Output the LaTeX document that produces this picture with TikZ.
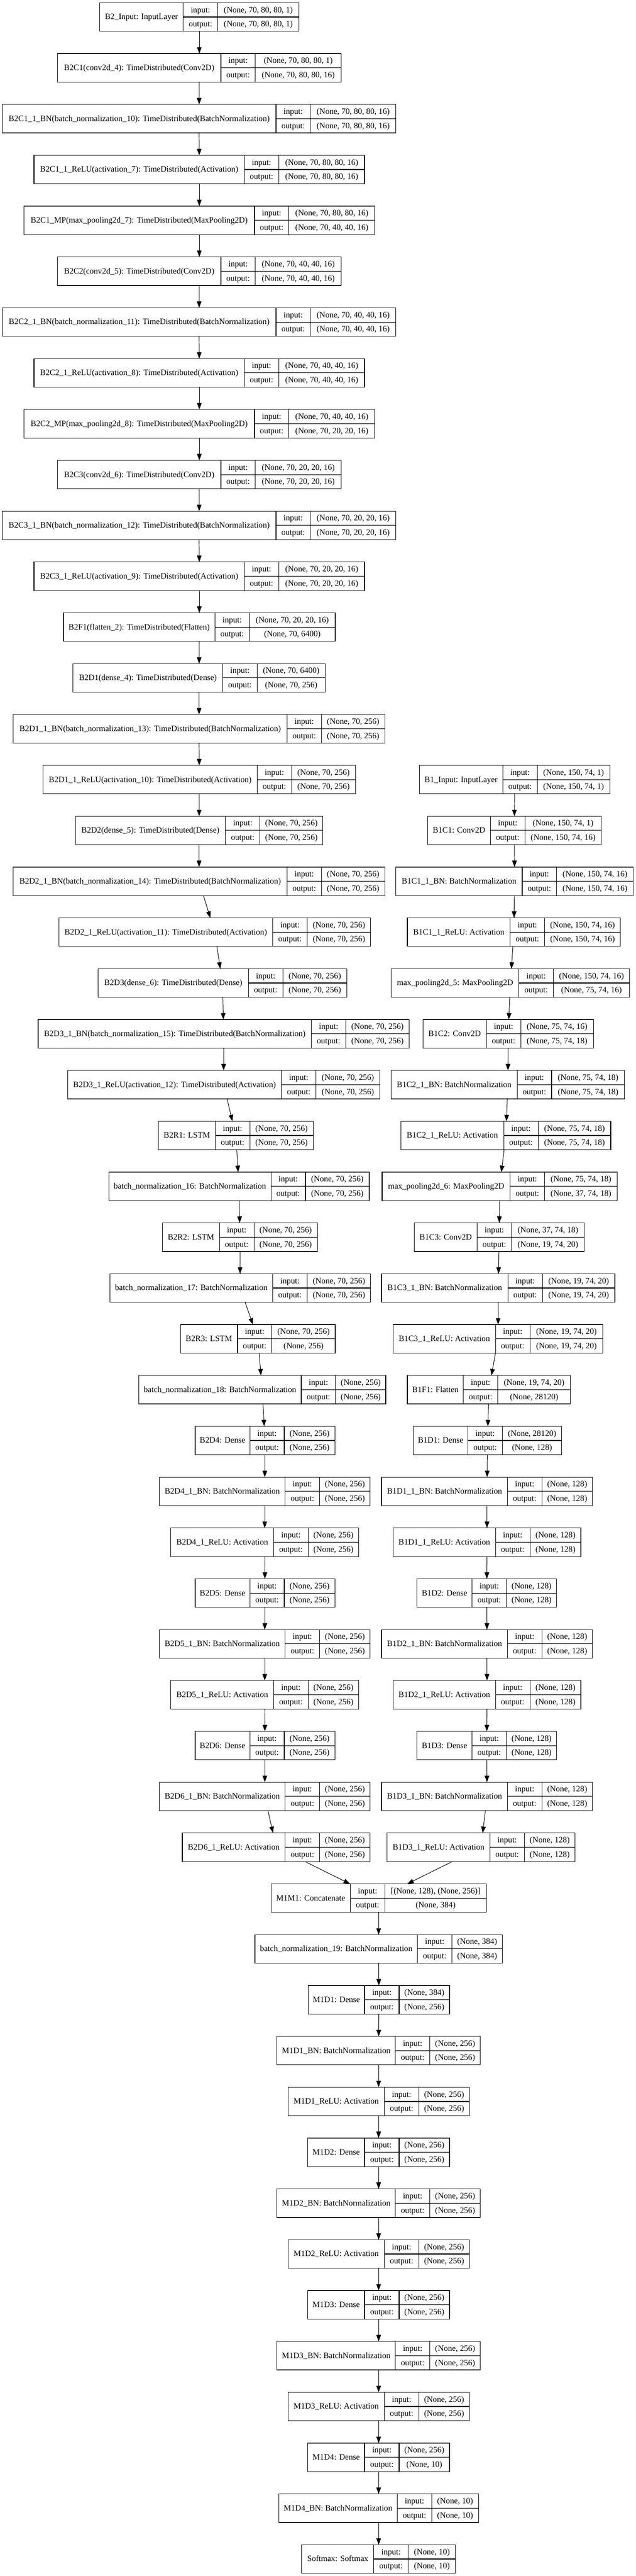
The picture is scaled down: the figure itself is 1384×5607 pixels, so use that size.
\documentclass[tikz,border=0pt]{standalone}
\usepackage{fontspec}
\setmainfont{Liberation Serif}
\usepackage{tikz}
\usetikzlibrary{arrows.meta}
\tikzset{%
  >={Triangle[width=10pt,length=14pt]},
  % Specifications for style of nodes:
  layer/.style = {rectangle, draw=black, line width=1.3pt,
    minimum height=62pt, inner sep=0pt, outer sep=0pt},
  cell/.style = {draw=black, line width=1.3pt},
  cellText/.style = {inner sep=0pt, text height=13pt, text depth=2pt,
    font=\fontsize{18}{20}\selectfont},
  flow/.style = {->, line width=1.1pt},
}
% one Keras layer record: name, row, left, title cell width, right, title, input, output
\newcommand{\kerasLayer}[8]{%
  \pgfmathsetmacro\layTop{6+110.66*#2}
  \pgfmathsetmacro\layMid{\layTop+31}
  \pgfmathsetmacro\layBot{\layTop+62}
  \pgfmathsetmacro\layIn{\layTop+15.5}
  \pgfmathsetmacro\layOut{\layTop+46.5}
  \pgfmathsetmacro\layW{#5-#3}
  \pgfmathsetmacro\layCX{(#3+#5)/2}
  \pgfmathsetmacro\layA{#3+#4}
  \pgfmathsetmacro\layB{#3+#4+75}
  \pgfmathsetmacro\layTX{#3+#4/2}
  \pgfmathsetmacro\layLX{#3+#4+37.5}
  \pgfmathsetmacro\layVX{(#3+#4+75+#5)/2}
  \node(#1)[layer, minimum width=\layW pt] at (\layCX,\layMid) {};
  \draw[cell] (\layA,\layTop) -- (\layA,\layBot);
  \draw[cell] (\layB,\layTop) -- (\layB,\layBot);
  \draw[cell] (\layA,\layMid) -- (#5,\layMid);
  \node(#1Name)[cellText] at (\layTX,\layMid) {#6};
  \node(#1InTag)[cellText] at (\layLX,\layIn) {input:};
  \node(#1OutTag)[cellText] at (\layLX,\layOut) {output:};
  \node(#1In)[cellText] at (\layVX,\layIn) {#7};
  \node(#1Out)[cellText] at (\layVX,\layOut) {#8};
}

\begin{document}
\begin{tikzpicture}[x=1pt, y=-1pt]
  \useasboundingbox (0,0) rectangle (1384,5607);
  % Branch B2 (image sequence)
  \kerasLayer{B2Input}{0}{217}{182}{651}{B2\_Input: InputLayer}{(None, 70, 80, 80, 1)}{(None, 70, 80, 80, 1)}
  \kerasLayer{B2C1}{1}{125}{356}{743}{B2C1(conv2d\_4): TimeDistributed(Conv2D)}{(None, 70, 80, 80, 1)}{(None, 70, 80, 80, 16)}
  \kerasLayer{B2C1BN}{2}{5}{596}{862}{B2C1\_1\_BN(batch\_normalization\_10): TimeDistributed(BatchNormalization)}{(None, 70, 80, 80, 16)}{(None, 70, 80, 80, 16)}
  \kerasLayer{B2C1ReLU}{3}{74}{458}{794}{B2C1\_1\_ReLU(activation\_7): TimeDistributed(Activation)}{(None, 70, 80, 80, 16)}{(None, 70, 80, 80, 16)}
  \kerasLayer{B2C1MP}{4}{52}{502}{816}{B2C1\_MP(max\_pooling2d\_7): TimeDistributed(MaxPooling2D)}{(None, 70, 80, 80, 16)}{(None, 70, 40, 40, 16)}
  \kerasLayer{B2C2}{5}{125}{356}{743}{B2C2(conv2d\_5): TimeDistributed(Conv2D)}{(None, 70, 40, 40, 16)}{(None, 70, 40, 40, 16)}
  \kerasLayer{B2C2BN}{6}{5}{596}{862}{B2C2\_1\_BN(batch\_normalization\_11): TimeDistributed(BatchNormalization)}{(None, 70, 40, 40, 16)}{(None, 70, 40, 40, 16)}
  \kerasLayer{B2C2ReLU}{7}{74}{458}{794}{B2C2\_1\_ReLU(activation\_8): TimeDistributed(Activation)}{(None, 70, 40, 40, 16)}{(None, 70, 40, 40, 16)}
  \kerasLayer{B2C2MP}{8}{52}{502}{816}{B2C2\_MP(max\_pooling2d\_8): TimeDistributed(MaxPooling2D)}{(None, 70, 40, 40, 16)}{(None, 70, 20, 20, 16)}
  \kerasLayer{B2C3}{9}{125}{356}{743}{B2C3(conv2d\_6): TimeDistributed(Conv2D)}{(None, 70, 20, 20, 16)}{(None, 70, 20, 20, 16)}
  \kerasLayer{B2C3BN}{10}{5}{596}{862}{B2C3\_1\_BN(batch\_normalization\_12): TimeDistributed(BatchNormalization)}{(None, 70, 20, 20, 16)}{(None, 70, 20, 20, 16)}
  \kerasLayer{B2C3ReLU}{11}{74}{458}{794}{B2C3\_1\_ReLU(activation\_9): TimeDistributed(Activation)}{(None, 70, 20, 20, 16)}{(None, 70, 20, 20, 16)}
  \kerasLayer{B2F1}{12}{138}{330}{730}{B2F1(flatten\_2): TimeDistributed(Flatten)}{(None, 70, 20, 20, 16)}{(None, 70, 6400)}
  \kerasLayer{B2D1}{13}{159}{326}{708}{B2D1(dense\_4): TimeDistributed(Dense)}{(None, 70, 6400)}{(None, 70, 256)}
  \kerasLayer{B2D1BN}{14}{29}{596}{838}{B2D1\_1\_BN(batch\_normalization\_13): TimeDistributed(BatchNormalization)}{(None, 70, 256)}{(None, 70, 256)}
  \kerasLayer{B2D1ReLU}{15}{94}{466}{774}{B2D1\_1\_ReLU(activation\_10): TimeDistributed(Activation)}{(None, 70, 256)}{(None, 70, 256)}
  \kerasLayer{B2D2}{16}{164}{327}{703}{B2D2(dense\_5): TimeDistributed(Dense)}{(None, 70, 256)}{(None, 70, 256)}
  \kerasLayer{B2D2BN}{17}{29}{596}{838}{B2D2\_1\_BN(batch\_normalization\_14): TimeDistributed(BatchNormalization)}{(None, 70, 256)}{(None, 70, 256)}
  \kerasLayer{B2D2ReLU}{18}{128}{466}{807}{B2D2\_1\_ReLU(activation\_11): TimeDistributed(Activation)}{(None, 70, 256)}{(None, 70, 256)}
  \kerasLayer{B2D3}{19}{214}{327}{755}{B2D3(dense\_6): TimeDistributed(Dense)}{(None, 70, 256)}{(None, 70, 256)}
  \kerasLayer{B2D3BN}{20}{83}{595}{891}{B2D3\_1\_BN(batch\_normalization\_15): TimeDistributed(BatchNormalization)}{(None, 70, 256)}{(None, 70, 256)}
  \kerasLayer{B2D3ReLU}{21}{147}{466}{827}{B2D3\_1\_ReLU(activation\_12): TimeDistributed(Activation)}{(None, 70, 256)}{(None, 70, 256)}
  \kerasLayer{B2R1}{22}{345}{124}{682}{B2R1: LSTM}{(None, 70, 256)}{(None, 70, 256)}
  \kerasLayer{BN16}{23}{237}{353}{804}{batch\_normalization\_16: BatchNormalization}{(None, 70, 256)}{(None, 70, 256)}
  \kerasLayer{B2R2}{24}{354}{124}{691}{B2R2: LSTM}{(None, 70, 256)}{(None, 70, 256)}
  \kerasLayer{BN17}{25}{239}{355}{807}{batch\_normalization\_17: BatchNormalization}{(None, 70, 256)}{(None, 70, 256)}
  \kerasLayer{B2R3}{26}{393}{124}{730}{B2R3: LSTM}{(None, 70, 256)}{(None, 256)}
  \kerasLayer{BN18}{27}{302}{354}{840}{batch\_normalization\_18: BatchNormalization}{(None, 256)}{(None, 256)}
  \kerasLayer{B2D4}{28}{425}{119}{729}{B2D4: Dense}{(None, 256)}{(None, 256)}
  \kerasLayer{B2D4BN}{29}{347}{274}{806}{B2D4\_1\_BN: BatchNormalization}{(None, 256)}{(None, 256)}
  \kerasLayer{B2D4ReLU}{30}{372}{224}{781}{B2D4\_1\_ReLU: Activation}{(None, 256)}{(None, 256)}
  \kerasLayer{B2D5}{31}{425}{119}{729}{B2D5: Dense}{(None, 256)}{(None, 256)}
  \kerasLayer{B2D5BN}{32}{347}{274}{806}{B2D5\_1\_BN: BatchNormalization}{(None, 256)}{(None, 256)}
  \kerasLayer{B2D5ReLU}{33}{372}{224}{781}{B2D5\_1\_ReLU: Activation}{(None, 256)}{(None, 256)}
  \kerasLayer{B2D6}{34}{425}{119}{729}{B2D6: Dense}{(None, 256)}{(None, 256)}
  \kerasLayer{B2D6BN}{35}{347}{274}{806}{B2D6\_1\_BN: BatchNormalization}{(None, 256)}{(None, 256)}
  \kerasLayer{B2D6ReLU}{36}{397}{224}{806}{B2D6\_1\_ReLU: Activation}{(None, 256)}{(None, 256)}
  % Branch B1 (single image)
  \kerasLayer{B1Input}{15}{913}{182}{1328}{B1\_Input: InputLayer}{(None, 150, 74, 1)}{(None, 150, 74, 1)}
  \kerasLayer{B1C1}{16}{931}{137}{1309}{B1C1: Conv2D}{(None, 150, 74, 1)}{(None, 150, 74, 16)}
  \kerasLayer{B1C1BN}{17}{862}{275}{1379}{B1C1\_1\_BN: BatchNormalization}{(None, 150, 74, 16)}{(None, 150, 74, 16)}
  \kerasLayer{B1C1ReLU}{18}{887}{224}{1351}{B1C1\_1\_ReLU: Activation}{(None, 150, 74, 16)}{(None, 150, 74, 16)}
  \kerasLayer{MP5}{19}{852}{278}{1371}{max\_pooling2d\_5: MaxPooling2D}{(None, 150, 74, 16)}{(None, 75, 74, 16)}
  \kerasLayer{B1C2}{20}{921}{138}{1292}{B1C2: Conv2D}{(None, 75, 74, 16)}{(None, 75, 74, 18)}
  \kerasLayer{B1C2BN}{21}{852}{274}{1360}{B1C2\_1\_BN: BatchNormalization}{(None, 75, 74, 18)}{(None, 75, 74, 18)}
  \kerasLayer{B1C2ReLU}{22}{873}{224}{1330}{B1C2\_1\_ReLU: Activation}{(None, 75, 74, 18)}{(None, 75, 74, 18)}
  \kerasLayer{MP6}{23}{832}{279}{1344}{max\_pooling2d\_6: MaxPooling2D}{(None, 75, 74, 18)}{(None, 37, 74, 18)}
  \kerasLayer{B1C3}{24}{902}{137}{1272}{B1C3: Conv2D}{(None, 37, 74, 18)}{(None, 19, 74, 20)}
  \kerasLayer{B1C3BN}{25}{831}{275}{1339}{B1C3\_1\_BN: BatchNormalization}{(None, 19, 74, 20)}{(None, 19, 74, 20)}
  \kerasLayer{B1C3ReLU}{26}{856}{223}{1313}{B1C3\_1\_ReLU: Activation}{(None, 19, 74, 20)}{(None, 19, 74, 20)}
  \kerasLayer{B1F1}{27}{887}{122}{1242}{B1F1: Flatten}{(None, 19, 74, 20)}{(None, 28120)}
  \kerasLayer{B1D1}{28}{900}{119}{1223}{B1D1: Dense}{(None, 28120)}{(None, 128)}
  \kerasLayer{B1D1BN}{29}{831}{274}{1290}{B1D1\_1\_BN: BatchNormalization}{(None, 128)}{(None, 128)}
  \kerasLayer{B1D1ReLU}{30}{856}{223}{1265}{B1D1\_1\_ReLU: Activation}{(None, 128)}{(None, 128)}
  \kerasLayer{B1D2}{31}{908}{120}{1212}{B1D2: Dense}{(None, 128)}{(None, 128)}
  \kerasLayer{B1D2BN}{32}{831}{274}{1290}{B1D2\_1\_BN: BatchNormalization}{(None, 128)}{(None, 128)}
  \kerasLayer{B1D2ReLU}{33}{856}{223}{1265}{B1D2\_1\_ReLU: Activation}{(None, 128)}{(None, 128)}
  \kerasLayer{B1D3}{34}{908}{120}{1212}{B1D3: Dense}{(None, 128)}{(None, 128)}
  \kerasLayer{B1D3BN}{35}{831}{274}{1290}{B1D3\_1\_BN: BatchNormalization}{(None, 128)}{(None, 128)}
  \kerasLayer{B1D3ReLU}{36}{843}{224}{1252}{B1D3\_1\_ReLU: Activation}{(None, 128)}{(None, 128)}
  % Merged head
  \kerasLayer{M1M1}{37}{590}{173}{1059}{M1M1: Concatenate}{[(None, 128), (None, 256)]}{(None, 384)}
  \kerasLayer{BN19}{38}{555}{354}{1094}{batch\_normalization\_19: BatchNormalization}{(None, 384)}{(None, 384)}
  \kerasLayer{M1D1}{39}{671}{123}{979}{M1D1: Dense}{(None, 384)}{(None, 256)}
  \kerasLayer{M1D1BN}{40}{603}{258}{1046}{M1D1\_BN: BatchNormalization}{(None, 256)}{(None, 256)}
  \kerasLayer{M1D1ReLU}{41}{627}{210}{1022}{M1D1\_ReLU: Activation}{(None, 256)}{(None, 256)}
  \kerasLayer{M1D2}{42}{670}{124}{979}{M1D2: Dense}{(None, 256)}{(None, 256)}
  \kerasLayer{M1D2BN}{43}{603}{258}{1046}{M1D2\_BN: BatchNormalization}{(None, 256)}{(None, 256)}
  \kerasLayer{M1D2ReLU}{44}{627}{210}{1022}{M1D2\_ReLU: Activation}{(None, 256)}{(None, 256)}
  \kerasLayer{M1D3}{45}{670}{124}{979}{M1D3: Dense}{(None, 256)}{(None, 256)}
  \kerasLayer{M1D3BN}{46}{603}{258}{1046}{M1D3\_BN: BatchNormalization}{(None, 256)}{(None, 256)}
  \kerasLayer{M1D3ReLU}{47}{627}{210}{1022}{M1D3\_ReLU: Activation}{(None, 256)}{(None, 256)}
  \kerasLayer{M1D4}{48}{670}{124}{979}{M1D4: Dense}{(None, 256)}{(None, 10)}
  \kerasLayer{M1D4BN}{49}{607}{258}{1042}{M1D4\_BN: BatchNormalization}{(None, 10)}{(None, 10)}
  \kerasLayer{Softmax}{50}{657}{157}{992}{Softmax: Softmax}{(None, 10)}{(None, 10)}
  % Connectors
  \draw[flow](B2Input) -- (B2C1);
  \draw[flow](B2C1) -- (B2C1BN);
  \draw[flow](B2C1BN) -- (B2C1ReLU);
  \draw[flow](B2C1ReLU) -- (B2C1MP);
  \draw[flow](B2C1MP) -- (B2C2);
  \draw[flow](B2C2) -- (B2C2BN);
  \draw[flow](B2C2BN) -- (B2C2ReLU);
  \draw[flow](B2C2ReLU) -- (B2C2MP);
  \draw[flow](B2C2MP) -- (B2C3);
  \draw[flow](B2C3) -- (B2C3BN);
  \draw[flow](B2C3BN) -- (B2C3ReLU);
  \draw[flow](B2C3ReLU) -- (B2F1);
  \draw[flow](B2F1) -- (B2D1);
  \draw[flow](B2D1) -- (B2D1BN);
  \draw[flow](B2D1BN) -- (B2D1ReLU);
  \draw[flow](B2D1ReLU) -- (B2D2);
  \draw[flow](B2D2) -- (B2D2BN);
  \draw[flow](B2D2BN) -- (B2D2ReLU);
  \draw[flow](B2D2ReLU) -- (B2D3);
  \draw[flow](B2D3) -- (B2D3BN);
  \draw[flow](B2D3BN) -- (B2D3ReLU);
  \draw[flow](B2D3ReLU) -- (B2R1);
  \draw[flow](B2R1) -- (BN16);
  \draw[flow](BN16) -- (B2R2);
  \draw[flow](B2R2) -- (BN17);
  \draw[flow](BN17) -- (B2R3);
  \draw[flow](B2R3) -- (BN18);
  \draw[flow](BN18) -- (B2D4);
  \draw[flow](B2D4) -- (B2D4BN);
  \draw[flow](B2D4BN) -- (B2D4ReLU);
  \draw[flow](B2D4ReLU) -- (B2D5);
  \draw[flow](B2D5) -- (B2D5BN);
  \draw[flow](B2D5BN) -- (B2D5ReLU);
  \draw[flow](B2D5ReLU) -- (B2D6);
  \draw[flow](B2D6) -- (B2D6BN);
  \draw[flow](B2D6BN) -- (B2D6ReLU);
  \draw[flow](B2D6ReLU) -- (M1M1);
  \draw[flow](B1Input) -- (B1C1);
  \draw[flow](B1C1) -- (B1C1BN);
  \draw[flow](B1C1BN) -- (B1C1ReLU);
  \draw[flow](B1C1ReLU) -- (MP5);
  \draw[flow](MP5) -- (B1C2);
  \draw[flow](B1C2) -- (B1C2BN);
  \draw[flow](B1C2BN) -- (B1C2ReLU);
  \draw[flow](B1C2ReLU) -- (MP6);
  \draw[flow](MP6) -- (B1C3);
  \draw[flow](B1C3) -- (B1C3BN);
  \draw[flow](B1C3BN) -- (B1C3ReLU);
  \draw[flow](B1C3ReLU) -- (B1F1);
  \draw[flow](B1F1) -- (B1D1);
  \draw[flow](B1D1) -- (B1D1BN);
  \draw[flow](B1D1BN) -- (B1D1ReLU);
  \draw[flow](B1D1ReLU) -- (B1D2);
  \draw[flow](B1D2) -- (B1D2BN);
  \draw[flow](B1D2BN) -- (B1D2ReLU);
  \draw[flow](B1D2ReLU) -- (B1D3);
  \draw[flow](B1D3) -- (B1D3BN);
  \draw[flow](B1D3BN) -- (B1D3ReLU);
  \draw[flow](B1D3ReLU) -- (M1M1);
  \draw[flow](M1M1) -- (BN19);
  \draw[flow](BN19) -- (M1D1);
  \draw[flow](M1D1) -- (M1D1BN);
  \draw[flow](M1D1BN) -- (M1D1ReLU);
  \draw[flow](M1D1ReLU) -- (M1D2);
  \draw[flow](M1D2) -- (M1D2BN);
  \draw[flow](M1D2BN) -- (M1D2ReLU);
  \draw[flow](M1D2ReLU) -- (M1D3);
  \draw[flow](M1D3) -- (M1D3BN);
  \draw[flow](M1D3BN) -- (M1D3ReLU);
  \draw[flow](M1D3ReLU) -- (M1D4);
  \draw[flow](M1D4) -- (M1D4BN);
  \draw[flow](M1D4BN) -- (Softmax);
\end{tikzpicture}
\end{document}
